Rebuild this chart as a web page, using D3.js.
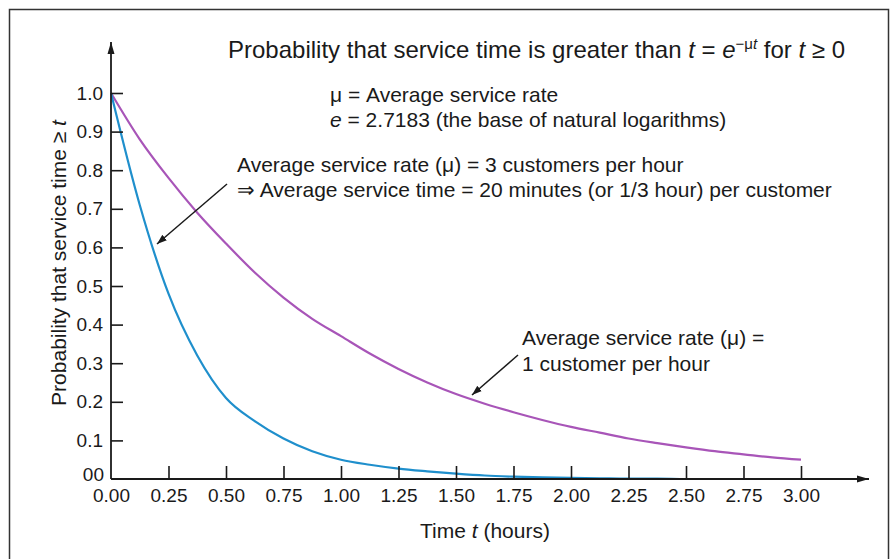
<!DOCTYPE html>
<html lang="en">
    <head>
        <meta charset="utf-8">
        <title>Service time probability</title>
        <script type="text/javascript" src="https://d3js.org/d3.v7.min.js"></script>
        <style>
            body { margin: 0; background: white; }
            #chart text {
                font-family: "Liberation Sans", Arial, sans-serif;
                fill: #1a1a1a;
            }
            #chart .tick line { stroke: #1a1a1a; stroke-width: 1.6; }
            .curve { fill: none; stroke-width: 2.2; }
        </style>
    </head>
    <body>
        <svg id="chart" width="895" height="559"></svg>
    </body>
    <script>
        // time in hours
        let times = [0, 0.125, 0.25, 0.375, 0.5, 0.625, 0.75, 0.875, 1.0, 1.125, 1.25, 1.375, 1.5,
                     1.625, 1.75, 1.875, 2.0, 2.125, 2.25, 2.375, 2.5, 2.625, 2.75, 2.875, 3.0];
        // mu = 1 customer per hour
        let rateOne = [1.0, 0.88, 0.78, 0.69, 0.61, 0.535, 0.47, 0.415, 0.37, 0.325, 0.285, 0.25, 0.22,
                       0.195, 0.173, 0.153, 0.135, 0.12, 0.105, 0.093, 0.082, 0.072, 0.064, 0.056, 0.05];
        // mu = 3 customers per hour
        let rateThree = [1.0, 0.71, 0.48, 0.32, 0.21, 0.15, 0.105, 0.072, 0.05, 0.037, 0.027, 0.02, 0.014,
                         0.009, 0.006, 0.004, 0.003, 0.002, 0.001, 0.001, 0, 0, 0, 0, 0];

        let xTicks = [0, 0.25, 0.5, 0.75, 1.0, 1.25, 1.5, 1.75, 2.0, 2.25, 2.5, 2.75, 3.0];
        let xTickLabels = ["0.00", "0.25", "0.50", "0.75", "1.00", "1.25", "1.50", "1.75",
                           "2.00", "2.25", "2.50", "2.75", "3.00"];
        let yTicks = [0, 0.1, 0.2, 0.3, 0.4, 0.5, 0.6, 0.7, 0.8, 0.9, 1.0];
        let yTickLabels = ["00", "0.1", "0.2", "0.3", "0.4", "0.5", "0.6", "0.7", "0.8", "0.9", "1.0"];

        let svg = d3.select("#chart");

        let x = d3.scaleLinear().domain([0, 3]).range([111, 801]);
        let y = d3.scaleLinear().domain([0, 1]).range([479, 93]);

        // outer frame
        svg.append("rect")
            .attr("x", 9.5).attr("y", 9.5)
            .attr("width", 879).attr("height", 600)
            .attr("fill", "none").attr("stroke", "#333").attr("stroke-width", 1.5);

        let defs = svg.append("defs");
        defs.append("marker")
            .attr("id", "head")
            .attr("viewBox", "0 0 10 10")
            .attr("refX", 10).attr("refY", 5)
            .attr("markerWidth", 10).attr("markerHeight", 10)
            .attr("markerUnits", "userSpaceOnUse")
            .attr("orient", "auto")
            .append("path")
            .attr("d", "M0,1.5 L10,5 L0,8.5 Z")
            .attr("fill", "#1a1a1a");
        defs.append("marker")
            .attr("id", "axhead")
            .attr("viewBox", "0 0 12 10")
            .attr("refX", 12).attr("refY", 5)
            .attr("markerWidth", 12).attr("markerHeight", 10)
            .attr("markerUnits", "userSpaceOnUse")
            .attr("orient", "auto")
            .append("path")
            .attr("d", "M0,1.5 L12,5 L0,8.5 Z")
            .attr("fill", "#1a1a1a");

        // curves
        let pts = (vals) => times.map((t, i) => [t, vals[i]]);
        let line = d3.line()
            .x(d => x(d[0]))
            .y(d => y(d[1]))
            .curve(d3.curveMonotoneX);

        svg.append("path")
            .attr("class", "curve")
            .attr("stroke", "#a855b8")
            .attr("d", line(pts(rateOne)));
        svg.append("path")
            .attr("class", "curve")
            .attr("stroke", "#1f8fcc")
            .attr("d", line(pts(rateThree)));

        // axes
        let yAxis = d3.axisLeft(y)
            .tickValues(yTicks)
            .tickFormat((d, i) => yTickLabels[i])
            .tickSizeInner(-12)
            .tickSizeOuter(0)
            .tickPadding(8);
        let gy = svg.append("g")
            .attr("transform", `translate(${x(0)},0)`)
            .call(yAxis);
        gy.select(".domain").remove();
        gy.selectAll(".tick")
            .filter(d => d === 0)
            .select("line").remove();
        gy.selectAll("text")
            .attr("font-size", 19)
            .attr("fill", "#1a1a1a");
        // the "00" label sits a little above the corner
        gy.selectAll(".tick")
            .filter(d => d === 0)
            .select("text")
            .attr("dy", "0.1em")
            .attr("x", -7);

        let xAxis = d3.axisBottom(x)
            .tickValues(xTicks)
            .tickFormat((d, i) => xTickLabels[i])
            .tickSizeInner(-13)
            .tickSizeOuter(0)
            .tickPadding(10);
        let gx = svg.append("g")
            .attr("transform", `translate(0,${y(0)})`)
            .call(xAxis);
        gx.select(".domain").remove();
        gx.selectAll(".tick")
            .filter(d => d === 0)
            .select("line").remove();
        gx.selectAll("text")
            .attr("font-size", 19)
            .attr("fill", "#1a1a1a");

        // axis lines with arrowheads
        svg.append("line")
            .attr("x1", x(0)).attr("y1", y(0))
            .attr("x2", x(0)).attr("y2", 42)
            .attr("stroke", "#1a1a1a").attr("stroke-width", 1.8)
            .attr("marker-end", "url(#axhead)");
        svg.append("line")
            .attr("x1", x(0)).attr("y1", y(0))
            .attr("x2", 869).attr("y2", y(0))
            .attr("stroke", "#1a1a1a").attr("stroke-width", 1.8)
            .attr("marker-end", "url(#axhead)");

        // axis titles
        let xt = svg.append("text")
            .attr("x", 485).attr("y", 538)
            .attr("text-anchor", "middle")
            .attr("font-size", 21);
        xt.append("tspan").text("Time ");
        xt.append("tspan").attr("font-style", "italic").text("t");
        xt.append("tspan").text(" (hours)");

        let yt = svg.append("text")
            .attr("transform", "translate(66,263) rotate(-90)")
            .attr("text-anchor", "middle")
            .attr("font-size", 21);
        yt.append("tspan").text("Probability that service time \u2265 ");
        yt.append("tspan").attr("font-style", "italic").text("t");

        // headline formula
        let title = svg.append("text")
            .attr("x", 228).attr("y", 58)
            .attr("font-size", 24);
        title.append("tspan").text("Probability that service time is greater than ");
        title.append("tspan").attr("font-style", "italic").text("t");
        title.append("tspan").text(" = ");
        title.append("tspan").attr("font-style", "italic").text("e");
        title.append("tspan").attr("font-size", 15).attr("dy", -9).text("\u2212\u03bc");
        title.append("tspan").attr("font-size", 15).attr("font-style", "italic").text("t");
        title.append("tspan").attr("dy", 9).text(" for ");
        title.append("tspan").attr("font-style", "italic").text("t");
        title.append("tspan").text(" \u2265 0");

        // notes
        svg.append("text")
            .attr("x", 330).attr("y", 102)
            .attr("font-size", 21)
            .text("\u03bc = Average service rate");
        let eNote = svg.append("text")
            .attr("x", 330).attr("y", 127)
            .attr("font-size", 21);
        eNote.append("tspan").attr("font-style", "italic").text("e");
        eNote.append("tspan").text(" = 2.7183 (the base of natural logarithms)");

        svg.append("text")
            .attr("x", 237).attr("y", 172)
            .attr("font-size", 21)
            .text("Average service rate (\u03bc) = 3 customers per hour");
        svg.append("text")
            .attr("x", 237).attr("y", 197)
            .attr("font-size", 21)
            .text("\u21d2 Average service time = 20 minutes (or 1/3 hour) per customer");

        svg.append("text")
            .attr("x", 522).attr("y", 345)
            .attr("font-size", 21)
            .text("Average service rate (\u03bc) =");
        svg.append("text")
            .attr("x", 522).attr("y", 371)
            .attr("font-size", 21)
            .text("1 customer per hour");

        // pointer arrows to the curves
        svg.append("line")
            .attr("x1", 227).attr("y1", 184)
            .attr("x2", 157).attr("y2", 244)
            .attr("stroke", "#1a1a1a").attr("stroke-width", 1.5)
            .attr("marker-end", "url(#head)");
        svg.append("line")
            .attr("x1", 518).attr("y1", 355)
            .attr("x2", 472).attr("y2", 395)
            .attr("stroke", "#1a1a1a").attr("stroke-width", 1.5)
            .attr("marker-end", "url(#head)");
    </script>
</html>
